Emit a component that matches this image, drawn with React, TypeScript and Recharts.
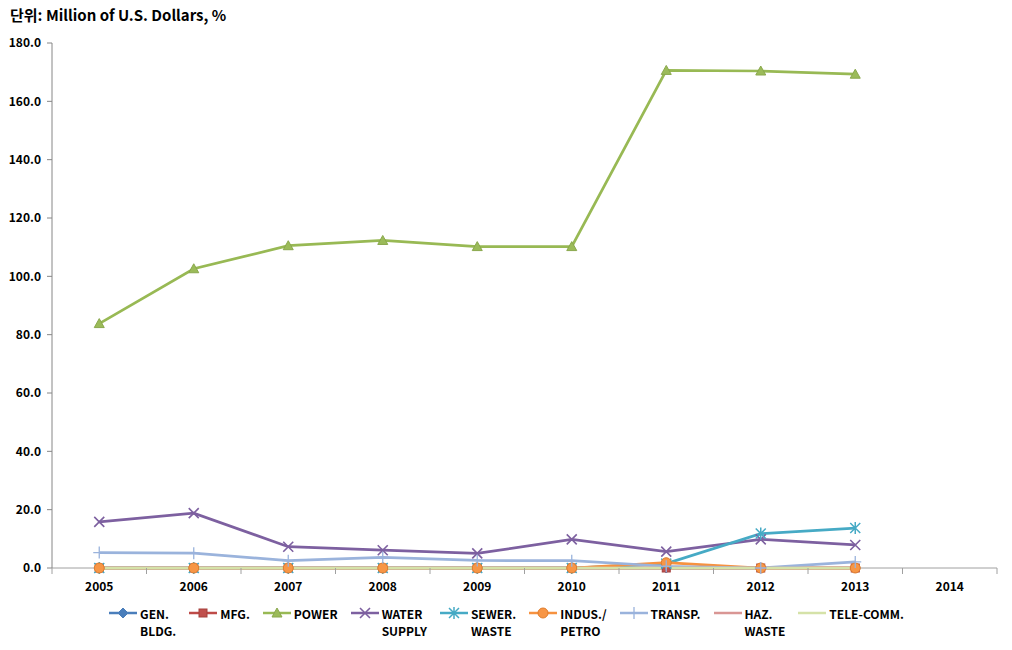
import React from 'react';
import { LineChart, Line, XAxis, YAxis, ReferenceLine } from 'recharts';

const years = ['2005', '2006', '2007', '2008', '2009', '2010', '2011', '2012', '2013', '2014'];
const genBldg = [0, 0, 0, 0, 0, 0, 0, 0, 0, null];
const mfg = [0, 0, 0, 0, 0, 0, 0, 0, 0, null];
const power = [83.8, 102.6, 110.5, 112.3, 110.2, 110.2, 170.6, 170.4, 169.3, null];
const waterSupply = [15.8, 18.8, 7.3, 6.1, 5.0, 9.8, 5.6, 9.8, 7.9, null];
const sewerWaste = [0, 0, 0, 0, 0, 0, 1.5, 11.8, 13.7, null];
const indusPetro = [0, 0, 0, 0, 0, 0, 1.8, 0, 0, null];
const transp = [5.3, 5.1, 2.5, 3.6, 2.6, 2.5, 0.6, 0, 2.1, null];
const hazWaste = [0, 0, 0, 0, 0, 0, 0, 0, 0, null];
const teleComm = [0, 0, 0, 0, 0, 0, 0, 0, 0, null];
const yTicks = [0, 20, 40, 60, 80, 100, 120, 140, 160, 180];

const TITLE = '단위: Million of U.S. Dollars, %';
const FONT = '"Noto Sans CJK KR", "Malgun Gothic", sans-serif';

type Shape = 'diamond' | 'square' | 'triangle' | 'x' | 'star' | 'circle' | 'plus' | 'none';
interface Series {
  key: string;
  label: string[];
  color: string;
  shape: Shape;
  values: (number | null)[];
}

const series: Series[] = [
  { key: 'gen', label: ['GEN.', 'BLDG.'], color: '#4A7EBB', shape: 'diamond', values: genBldg },
  { key: 'mfg', label: ['MFG.'], color: '#BE4B48', shape: 'square', values: mfg },
  { key: 'power', label: ['POWER'], color: '#98B954', shape: 'triangle', values: power },
  { key: 'water', label: ['WATER', 'SUPPLY'], color: '#7D60A0', shape: 'x', values: waterSupply },
  { key: 'sewer', label: ['SEWER.', 'WASTE'], color: '#46AAC5', shape: 'star', values: sewerWaste },
  { key: 'indus', label: ['INDUS./', 'PETRO'], color: '#F69240', shape: 'circle', values: indusPetro },
  { key: 'transp', label: ['TRANSP.'], color: '#9AB3DC', shape: 'plus', values: transp },
  { key: 'haz', label: ['HAZ.', 'WASTE'], color: '#D99694', shape: 'none', values: hazWaste },
  { key: 'tele', label: ['TELE-COMM.'], color: '#D5E2A8', shape: 'none', values: teleComm },
];

const data = years.map((year, i) => {
  const row: Record<string, string | number | null> = { year };
  series.forEach((s) => {
    row[s.key] = s.values[i];
  });
  return row;
});

const CHART_W = 1012;
const CHART_H = 650;
const PLOT_LEFT = 52;
const PLOT_RIGHT = 15;
const HALF_STEP = (CHART_W - PLOT_LEFT - PLOT_RIGHT) / years.length / 2;

function Marker({ cx, cy, shape, color }: { cx: number; cy: number; shape: Shape; color: string }) {
  switch (shape) {
    case 'diamond':
      return (
        <polygon
          points={`${cx},${cy - 5} ${cx + 5},${cy} ${cx},${cy + 5} ${cx - 5},${cy}`}
          fill={color}
          stroke={color}
        />
      );
    case 'square':
      return <rect x={cx - 4} y={cy - 4} width={8} height={8} fill="#C0504D" stroke="#A5403D" />;
    case 'triangle':
      return (
        <polygon
          points={`${cx},${cy - 5} ${cx + 5},${cy + 4} ${cx - 5},${cy + 4}`}
          fill="#9BBB59"
          stroke="#8AA84D"
        />
      );
    case 'x':
      return (
        <path
          d={`M${cx - 5},${cy - 5}L${cx + 5},${cy + 5}M${cx + 5},${cy - 5}L${cx - 5},${cy + 5}`}
          stroke={color}
          strokeWidth={1.6}
          fill="none"
        />
      );
    case 'star':
      return (
        <path
          d={`M${cx - 5},${cy - 5}L${cx + 5},${cy + 5}M${cx + 5},${cy - 5}L${cx - 5},${cy + 5}M${cx},${cy - 6}L${cx},${cy + 6}`}
          stroke={color}
          strokeWidth={1.5}
          fill="none"
        />
      );
    case 'circle':
      return <circle cx={cx} cy={cy} r={5} fill="#F79646" stroke="#E07D2C" />;
    case 'plus':
      return (
        <path
          d={`M${cx - 6},${cy}L${cx + 6},${cy}M${cx},${cy - 6}L${cx},${cy + 6}`}
          stroke={color}
          strokeWidth={1.3}
          fill="none"
        />
      );
    default:
      return null;
  }
}

const XTick = (props: any) => {
  const { x, y, payload, index } = props;
  const axisY = y - 6;
  return (
    <g>
      <line x1={x - HALF_STEP} x2={x - HALF_STEP} y1={axisY} y2={axisY + 6} stroke="#A0A0A0" />
      {index === years.length - 1 && (
        <line x1={x + HALF_STEP} x2={x + HALF_STEP} y1={axisY} y2={axisY + 6} stroke="#A0A0A0" />
      )}
      <text
        x={x}
        y={axisY + 23}
        textAnchor="middle"
        fontFamily={FONT}
        fontWeight="bold"
        fontSize={12}
        fill="#000"
      >
        {payload.value}
      </text>
    </g>
  );
};

const LegendIcon = ({ s }: { s: Series }) => (
  <svg width={30} height={14} style={{ display: 'block', marginTop: 1 }}>
    <line x1={1} x2={29} y1={7} y2={7} stroke={s.color} strokeWidth={2.5} />
    <Marker cx={15} cy={7} shape={s.shape} color={s.color} />
  </svg>
);

export default function App() {
  return (
    <div style={{ position: 'absolute', left: 0, top: 0, width: CHART_W, height: CHART_H, background: '#fff' }}>
      <div
        style={{
          position: 'absolute',
          left: 10,
          top: 4,
          fontFamily: FONT,
          fontWeight: 'bold',
          fontSize: 15,
          color: '#000',
          whiteSpace: 'nowrap',
        }}
      >
        {TITLE}
      </div>
      <LineChart
        width={CHART_W}
        height={CHART_H}
        data={data}
        margin={{ top: 43, right: PLOT_RIGHT, bottom: 52, left: 7 }}
      >
        <ReferenceLine y={0} stroke="#A0A0A0" strokeWidth={1} ifOverflow="visible" />
        <XAxis
          dataKey="year"
          type="category"
          padding={{ left: HALF_STEP, right: HALF_STEP }}
          height={30}
          axisLine={false}
          tickLine={false}
          tickSize={6}
          tickMargin={0}
          interval={0}
          tick={<XTick />}
        />
        <YAxis
          width={45}
          domain={[0, 180]}
          ticks={yTicks}
          interval={0}
          stroke="#868686"
          tickSize={5}
          tickMargin={6}
          tickFormatter={(v: number) => v.toFixed(1)}
          tick={{ fontFamily: FONT, fontWeight: 'bold', fontSize: 12, fill: '#000' }}
        />
        {series.map((s) => (
          <Line
            key={s.key}
            dataKey={s.key}
            name={s.label.join(' ')}
            type="linear"
            stroke={s.color}
            strokeWidth={2.75}
            isAnimationActive={false}
            activeDot={false}
            dot={(p: any) => {
              if (p.cx == null || p.cy == null || p.value == null) return <g key={`${s.key}-${p.index}`} />;
              return (
                <g key={`${s.key}-${p.index}`}>
                  <Marker cx={p.cx} cy={p.cy} shape={s.shape} color={s.color} />
                </g>
              );
            }}
          />
        ))}
      </LineChart>
      <div
        style={{
          position: 'absolute',
          left: 0,
          top: 605,
          width: CHART_W,
          display: 'flex',
          justifyContent: 'center',
          gap: 12,
          fontFamily: FONT,
          fontWeight: 'bold',
          fontSize: 12,
          color: '#000',
        }}
      >
        {series.map((s) => (
          <div key={s.key} style={{ display: 'flex', alignItems: 'flex-start' }}>
            <LegendIcon s={s} />
            <div style={{ marginLeft: 2, lineHeight: '17px' }}>
              {s.label.map((l) => (
                <div key={l}>{l}</div>
              ))}
            </div>
          </div>
        ))}
      </div>
    </div>
  );
}
